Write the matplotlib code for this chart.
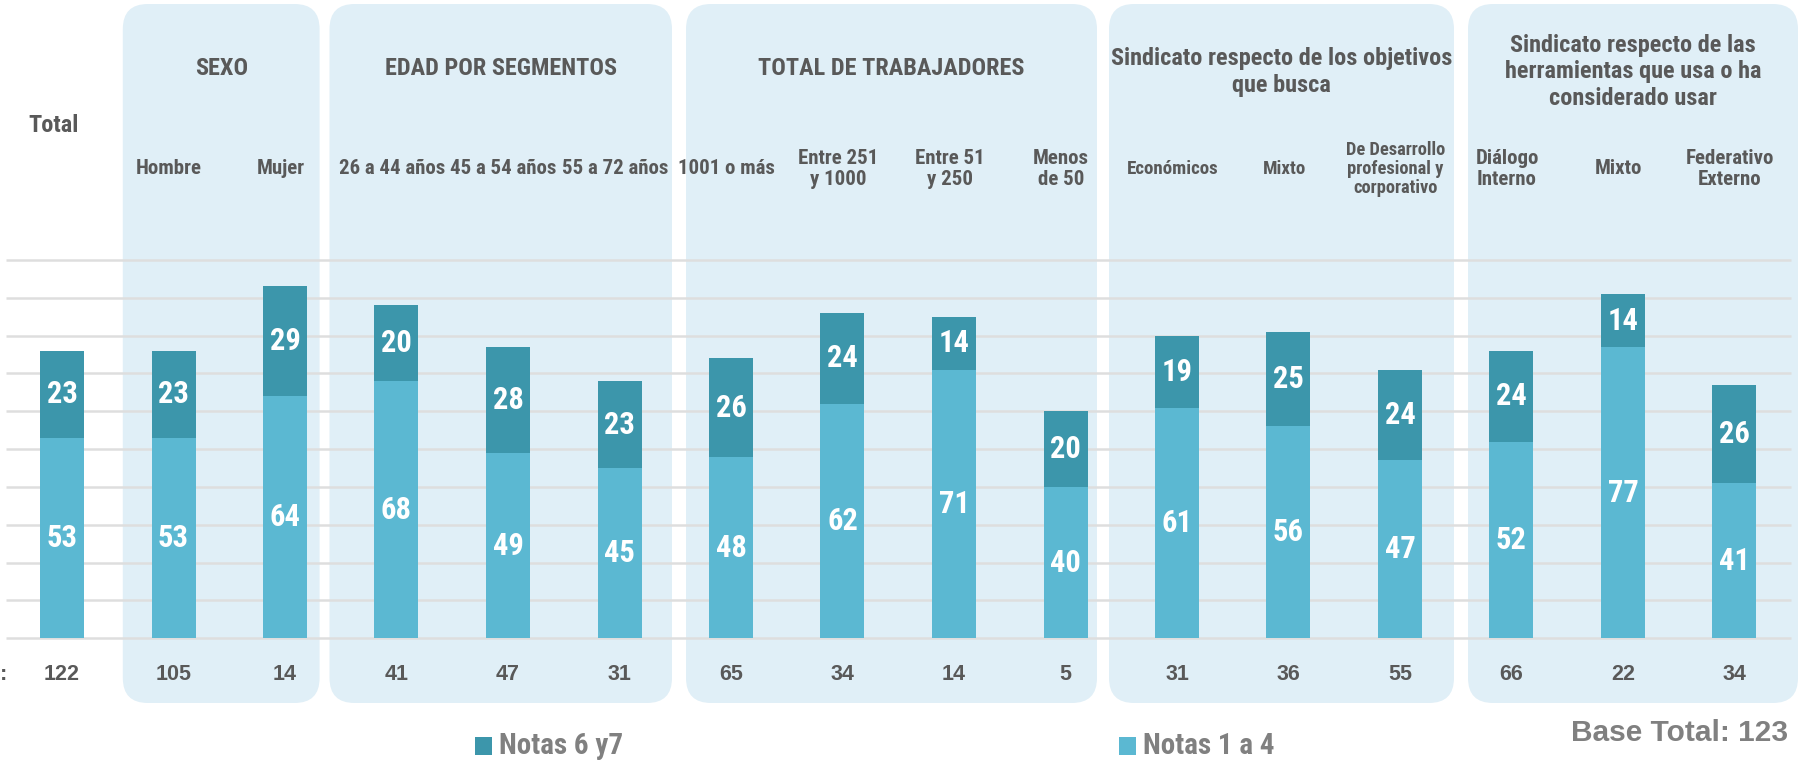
import matplotlib
matplotlib.use("Agg")
import matplotlib.pyplot as plt
from matplotlib import font_manager
from matplotlib.patches import FancyBboxPatch, Rectangle
import numpy as np

# data
categories = ["Total", "Hombre", "Mujer", "26 a 44 años", "45 a 54 años", "55 a 72 años",
              "1001 o más", "Entre 251\ny 1000", "Entre 51\ny 250", "Menos\nde 50",
              "Económicos", "Mixto", "De Desarrollo\nprofesional y\ncorporativo",
              "Diálogo\nInterno", "Mixto", "Federativo\nExterno"]
notas_1a4 = [53, 53, 64, 68, 49, 45, 48, 62, 71, 40, 61, 56, 47, 52, 77, 41]
notas_6y7 = [23, 23, 29, 20, 28, 23, 26, 24, 14, 20, 19, 25, 24, 24, 14, 26]
base_n = [122, 105, 14, 41, 47, 31, 65, 34, 14, 5, 31, 36, 55, 66, 22, 34]
groups = ["SEXO", "EDAD POR SEGMENTOS", "TOTAL DE TRABAJADORES",
          "Sindicato respecto de los objetivos\nque busca",
          "Sindicato respecto de las\nherramientas que usa o ha\nconsiderado usar"]
base_total = 123

# font: a condensed bold one if there is one
fam = "DejaVu Sans"
for f in ["Roboto Condensed", "Liberation Sans Narrow", "Open Sans Condensed"]:
    try:
        font_manager.findfont(font_manager.FontProperties(family=f), fallback_to_default=False)
        fam = f
        break
    except ValueError:
        pass
wide = ["Liberation Sans", "DejaVu Sans"]
plt.rcParams["font.family"] = [fam, "DejaVu Sans"]
plt.rcParams["font.weight"] = "bold"

DARK = "#3c96ab"
LIGHT = "#5bb8d2"
PANEL = "#e0eff7"
GRID = "#dedede"
TXT = "#595959"
GRAY = "#808080"

W, H = 1802, 763
fig = plt.figure(figsize=(W / 100, H / 100), dpi=100)
ax = fig.add_axes([0, 0, 1, 1])

# pixel layout: bar 0 at x=62, step 111.5 px; value 0 at y=638.3, 3.783 px per unit
x0, dx = 62, 111.5
y0, dy = 638.3, 3.783
ax.set_xlim(-x0 / dx, (W - x0) / dx)
ax.set_ylim((y0 - H) / dy, y0 / dy)
ax.axis("off")

def py(y):  # pixel row -> data y
    return (y0 - y) / dy

def px(x):  # pixel column -> data x
    return (x - x0) / dx

# panels behind each group
panel_edges = [(122.8, 319.6), (329.5, 672), (686, 1097), (1109, 1454), (1468, 1798)]
rad = 25 / dx
for (l, r) in panel_edges:
    p = FancyBboxPatch((px(l), py(703)), px(r) - px(l), py(4) - py(703),
                       boxstyle="round,pad=0,rounding_size=%f" % rad,
                       mutation_aspect=dx / dy, fc=PANEL, ec="none", zorder=0)
    ax.add_patch(p)

# gridlines
ax.hlines(np.arange(0, 101, 10), px(6), px(1791), color=GRID, lw=1.8, zorder=1)

x = np.arange(len(categories))
bw = 44 / dx
low = np.array(notas_1a4)
high = np.array(notas_6y7)
ax.bar(x, low, width=bw, color=LIGHT, zorder=2)
ax.bar(x, high, bottom=low, width=bw, color=DARK, zorder=2)

for i in range(len(x)):
    ax.text(x[i], low[i] / 2, str(low[i]), ha="center", va="center",
            color="white", fontsize=22, zorder=3)
    ax.text(x[i], low[i] + high[i] / 2, str(high[i]), ha="center", va="center",
            color="white", fontsize=22, zorder=3)
    ax.text(x[i], py(674), str(base_n[i]), ha="center", va="center",
            color=TXT, fontsize=15.5, family=wide)

# category labels
for i, c in enumerate(categories):
    if i == 0:
        ax.text(x[i] - 0.08, py(126), c, ha="center", va="center", color=TXT, fontsize=17.5)
        continue
    fs = 15
    if i in (10, 11):
        fs = 13.7
    if i == 12:
        fs = 13.3
    ax.text(x[i] - 0.04, py(169), c, ha="center", va="center", color=TXT, fontsize=fs,
            linespacing=1.1)

ax.text(px(0), py(674), ":", ha="left", va="center", color=TXT, fontsize=15.5, family=wide)

# group titles, centred on their panels
title_y = [69, 69, 69, 72, 72]
for g, (l, r), ty in zip(groups, panel_edges, title_y):
    ax.text(px((l + r) / 2), py(ty), g, ha="center", va="center", color=TXT,
            fontsize=17.5, linespacing=1.2)

# legend
ax.add_patch(Rectangle((px(475), py(755)), px(492) - px(475), py(737) - py(755),
                       fc=DARK, ec="none"))
ax.text(px(499), py(746), "Notas 6 y7", ha="left", va="center", color=GRAY, fontsize=21)
ax.add_patch(Rectangle((px(1119), py(755)), px(1136) - px(1119), py(737) - py(755),
                       fc=LIGHT, ec="none"))
ax.text(px(1143), py(746), "Notas 1 a 4", ha="left", va="center", color=GRAY, fontsize=21)
ax.text(px(1788), py(733), "Base Total: %d" % base_total, ha="right", va="center",
        color=GRAY, fontsize=21.5, family=wide)

fig.savefig("out.png", dpi=100)
